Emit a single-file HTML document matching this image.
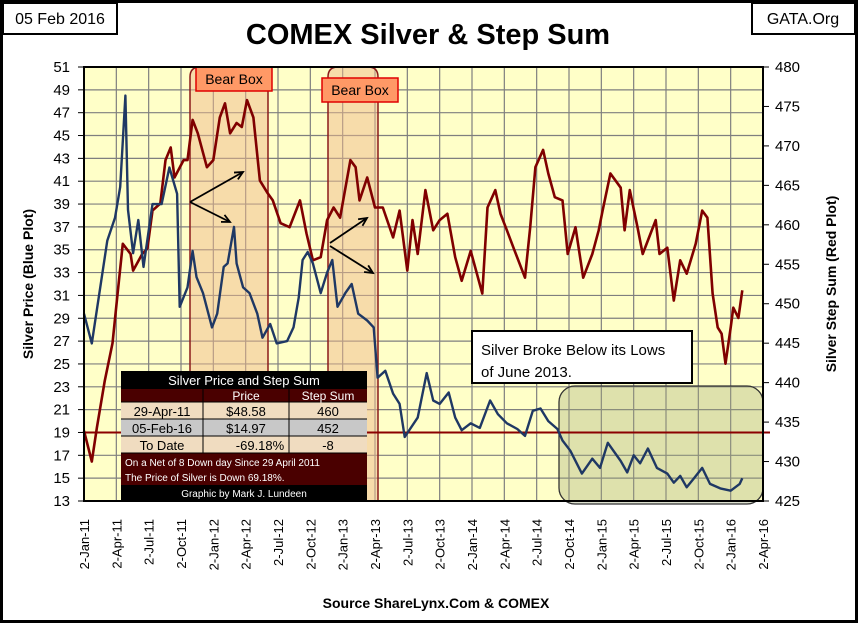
<!DOCTYPE html>
<html><head><meta charset="utf-8"><style>
body{margin:0;background:#fff}
svg{display:block}
text{font-family:"Liberation Sans",sans-serif}
</style></head><body>
<svg id="c" width="858" height="623" viewBox="0 0 858 623">
<rect x="1.5" y="1.5" width="855" height="620" fill="#fff" stroke="#000" stroke-width="3"/>
<rect x="3" y="3" width="114" height="31" fill="#fff" stroke="#000" stroke-width="2"/>
<text x="60" y="24" font-size="16" text-anchor="middle">05 Feb 2016</text>
<rect x="752" y="3" width="103" height="31" fill="#fff" stroke="#000" stroke-width="2"/>
<text x="803" y="24" font-size="16" text-anchor="middle">GATA.Org</text>
<text x="428" y="44" font-size="29" font-weight="bold" text-anchor="middle">COMEX Silver &amp; Step Sum</text>
<rect x="84" y="67" width="679" height="434" fill="#ffffc8"/>
<g id="grid"></g>
<g id="boxes"></g>
<line id="refline" stroke="#8b0000" stroke-width="2"/>
<path id="red" fill="none" stroke="#800000" stroke-width="2.6" stroke-linejoin="round"/>
<path id="blue" fill="none" stroke="#1f3864" stroke-width="2.4" stroke-linejoin="round"/>
<g id="ann"></g>
<rect x="84" y="67" width="679" height="434" fill="none" stroke="#000" stroke-width="2"/>
<g id="axes"></g>
<text transform="translate(33,284) rotate(-90)" font-size="14" font-weight="bold" text-anchor="middle">Silver Price  (Blue Plot)</text>
<text transform="translate(836,284) rotate(-90)" font-size="14" font-weight="bold" text-anchor="middle">Silver Step Sum   (Red Plot)</text>
<text x="436" y="608" font-size="14" font-weight="bold" text-anchor="middle">Source ShareLynx.Com &amp; COMEX</text>
</svg>
<script>
const blueT=[2011.00,2011.06,2011.18,2011.24,2011.28,2011.32,2011.34,2011.38,2011.42,2011.46,2011.53,2011.60,2011.66,2011.72,2011.74,2011.80,2011.84,2011.87,2011.92,2011.99,2012.03,2012.08,2012.11,2012.16,2012.18,2012.23,2012.28,2012.34,2012.38,2012.44,2012.49,2012.57,2012.62,2012.66,2012.69,2012.73,2012.77,2012.83,2012.88,2012.92,2012.96,2013.02,2013.07,2013.12,2013.19,2013.24,2013.27,2013.33,2013.39,2013.44,2013.48,2013.58,2013.65,2013.70,2013.75,2013.82,2013.87,2013.92,2013.99,2014.06,2014.14,2014.20,2014.27,2014.35,2014.41,2014.47,2014.53,2014.59,2014.66,2014.70,2014.76,2014.85,2014.93,2014.99,2015.05,2015.15,2015.20,2015.25,2015.30,2015.36,2015.43,2015.51,2015.56,2015.61,2015.66,2015.71,2015.78,2015.84,2015.92,2016.00,2016.07,2016.09];
const blueV=[29.4,26.8,35.8,37.8,40.5,48.5,38.5,34.7,37.6,33.5,39,39,42.2,39.9,30,31.7,34.9,32.6,31.2,28.2,29.4,33.5,33.8,37,33.8,31.7,31.2,29.4,27.3,28.5,26.8,27,28.2,30.8,34.1,34.8,33.8,31.2,33,34.1,30,31.2,32,29.4,28.8,28.2,23.8,24.4,22.4,21.5,18.6,20.3,24.2,21.8,21.5,22.5,20.3,19.2,19.8,19.4,21.8,20.6,19.8,19.3,18.7,20.9,21.1,20,19.3,18.3,17.4,15.4,16.7,15.9,18.1,16.5,15.5,17,16.3,17.6,15.9,15.4,14.6,15.2,14.2,14.9,15.9,14.5,14.1,13.9,14.5,15];
const redT=[2011.00,2011.06,2011.10,2011.16,2011.22,2011.26,2011.30,2011.36,2011.38,2011.45,2011.49,2011.53,2011.59,2011.63,2011.67,2011.70,2011.77,2011.80,2011.84,2011.88,2011.95,2012.00,2012.05,2012.09,2012.13,2012.18,2012.22,2012.26,2012.31,2012.36,2012.42,2012.46,2012.52,2012.59,2012.67,2012.72,2012.77,2012.83,2012.88,2012.93,2012.98,2013.06,2013.10,2013.13,2013.19,2013.25,2013.31,2013.39,2013.44,2013.50,2013.54,2013.58,2013.64,2013.70,2013.75,2013.81,2013.87,2013.92,2013.99,2014.08,2014.12,2014.18,2014.22,2014.27,2014.33,2014.41,2014.45,2014.49,2014.55,2014.59,2014.64,2014.70,2014.74,2014.80,2014.86,2014.93,2014.98,2015.01,2015.07,2015.15,2015.18,2015.22,2015.28,2015.32,2015.42,2015.45,2015.51,2015.56,2015.61,2015.66,2015.73,2015.78,2015.82,2015.86,2015.90,2015.93,2015.96,2016.00,2016.02,2016.06,2016.09];
const redV=[433.9,430,434.3,440.2,445,451.3,457.6,456.3,454.2,456.3,457,461.8,462.7,468.2,469.8,466,468.2,468.2,473.3,471.6,467.3,468.2,473.6,475.4,471.6,472.9,472.4,475.8,473.6,465.6,464,463.1,460.2,459.7,463.1,458.9,455.5,455.9,460.6,462.2,460.9,468.2,467.3,463.1,466,462.2,462.2,458.4,461.8,454.2,460.6,456.3,464.4,459.3,460.6,461.4,455.9,452.9,456.7,451.3,462.2,464.4,461.4,459.3,456.7,453.3,459.7,467.3,469.5,466.5,463.5,463.1,456.3,459.7,453.3,456.3,459.3,461.8,466.5,464.7,459.3,464.4,459.7,456.3,460.6,456.3,457.1,450.4,455.5,453.8,457.6,461.8,460.9,451.3,447,446.2,442.4,447,449.5,448.2,451.7];
const leftTicks=[13,15,17,19,21,23,25,27,29,31,33,35,37,39,41,43,45,47,49,51];
const rightTicks=[425,430,435,440,445,450,455,460,465,470,475,480];
const xLabels=["2-Jan-11","2-Apr-11","2-Jul-11","2-Oct-11","2-Jan-12","2-Apr-12","2-Jul-12","2-Oct-12","2-Jan-13","2-Apr-13","2-Jul-13","2-Oct-13","2-Jan-14","2-Apr-14","2-Jul-14","2-Oct-14","2-Jan-15","2-Apr-15","2-Jul-15","2-Oct-15","2-Jan-16","2-Apr-16"];
const refLevel=19;

const L=84,R=763,T=67,B=501;
const xs=t=>L+(t-2011)/5.25*(R-L);
const yl=v=>B-(v-13)/38*(B-T);
const yr=v=>B-(v-425)/55*(B-T);
const NS="http://www.w3.org/2000/svg";
function mk(tag,a,parent){const e=document.createElementNS(NS,tag);for(const k in a)e.setAttribute(k,a[k]);parent.appendChild(e);return e;}
const grid=document.getElementById('grid'),axes=document.getElementById('axes'),boxes=document.getElementById('boxes'),ann=document.getElementById('ann');
leftTicks.forEach(v=>{const y=yl(v);
 const g=mk('line',{x1:L,x2:R,y1:y,y2:y,stroke:'#7f7f7f','stroke-width':1.2},grid);
 
 
 const t=mk('text',{x:L-14,y:y+5,'font-size':15,'text-anchor':'end'},axes);t.textContent=v;
 
 
 mk('line',{x1:L-6,x2:L,y1:y,y2:y,stroke:'#000'},axes);});
rightTicks.forEach(v=>{const y=yr(v);
 const t=mk('text',{x:R+12,y:y+5,'font-size':15},axes);t.textContent=v;
 
 
 mk('line',{x1:R,x2:R+6,y1:y,y2:y,stroke:'#000'},axes);});
xLabels.forEach((s,i)=>{const x=L+i*(R-L)/21;
 const g=mk('line',{x1:x,x2:x,y1:T,y2:B,stroke:'#7f7f7f','stroke-width':1.2},grid);
 
 
 const t=mk('text',{transform:`translate(${x+5},${B+18}) rotate(-90)`,'font-size':13,'text-anchor':'end'},axes);t.textContent=s;
 
 });
[[190,268],[328,378]].forEach(b=>{const e=mk('path',{d:`M${b[0]},${B} V${T+10} Q${b[0]},${T} ${b[0]+10},${T} H${b[1]-10} Q${b[1]},${T} ${b[1]},${T+10} V${B}`,fill:'rgba(240,185,140,0.5)',stroke:'#8b1a1a','stroke-width':1.5},boxes);
 
 });
const gb=mk('rect',{x:559,y:386,width:204,height:118,rx:16,fill:'rgba(160,170,120,0.35)',stroke:'#333','stroke-width':1.3},boxes);


const rl=document.getElementById('refline');
rl.setAttribute('x1',L);rl.setAttribute('x2',770);rl.setAttribute('y1',yl(refLevel));rl.setAttribute('y2',yl(refLevel));
function path(T_,V_,f){return T_.map((t,i)=>(i?'L':'M')+xs(t).toFixed(1)+','+f(V_[i]).toFixed(1)).join(' ');}
document.getElementById('red').setAttribute('d',path(redT,redV,yr));
document.getElementById('blue').setAttribute('d',path(blueT,blueV,yl));
function label(x,y,w,h,txt){const r=mk('rect',{x,y,width:w,height:h,fill:'#ff9966',stroke:'#e00000','stroke-width':1.5},ann);
 
 
 const t=mk('text',{x:x+w/2,y:y+h/2+5,'font-size':14,'text-anchor':'middle'},ann);t.textContent=txt;}
label(196,67,76,24,'Bear Box');label(322,78,76,24,'Bear Box');
function arrow(x1,y1,x2,y2){mk('line',{x1,y1,x2,y2,stroke:'#000','stroke-width':1.8},ann);
 const a=Math.atan2(y2-y1,x2-x1),s=9;
 mk('path',{d:`M${x2-s*Math.cos(a-0.45)},${y2-s*Math.sin(a-0.45)} L${x2},${y2} L${x2-s*Math.cos(a+0.45)},${y2-s*Math.sin(a+0.45)}`,fill:'none',stroke:'#000','stroke-width':1.8},ann);}
arrow(190,202,243,172);arrow(190,202,230,222);arrow(330,243,367,218);arrow(330,246,373,273);
const nb=mk('rect',{x:472,y:331,width:220,height:52,fill:'#fff',stroke:'#000','stroke-width':2},ann);


[['Silver Broke Below its Lows',355],['of June 2013.',377]].forEach(p=>{const t=mk('text',{x:481,y:p[1],'font-size':15},ann);t.textContent=p[0];});
const tb=mk('g',{},ann);


mk('rect',{x:121,y:371,width:246,height:130,fill:'#000'},tb);
mk('rect',{x:121,y:389,width:246,height:13,fill:'#4a0000'},tb);
mk('rect',{x:121,y:402,width:246,height:17,fill:'#f0dcc0'},tb);
mk('rect',{x:121,y:419,width:246,height:17,fill:'#c8c8c8'},tb);
mk('rect',{x:121,y:436,width:246,height:17,fill:'#f0dcc0'},tb);
mk('rect',{x:121,y:453,width:246,height:32,fill:'#4a0000'},tb);
[[203,389,203,453],[289,389,289,453],[121,402,367,402],[121,419,367,419],[121,436,367,436],[121,453,367,453]].forEach(l=>mk('line',{x1:l[0],y1:l[1],x2:l[2],y2:l[3],stroke:'#000','stroke-width':1},tb));
function tt(x,y,s,c,sz,anc){const t=mk('text',{x,y,'font-size':sz||13,fill:c,'text-anchor':anc||'middle'},tb);t.textContent=s;}
tt(244,385,'Silver Price and Step Sum','#fff',13);
tt(246,400,'Price','#fff',12);tt(328,400,'Step Sum','#fff',12);
tt(162,416,'29-Apr-11','#000');tt(246,416,'$48.58','#000');tt(328,416,'460','#000');
tt(162,433,'05-Feb-16','#000');tt(246,433,'$14.97','#000');tt(328,433,'452','#000');
tt(162,450,'To Date','#000');tt(260,450,'-69.18%','#000');tt(328,450,'-8','#000');
tt(125,466,'On a Net of 8 Down day Since 29 April 2011','#fff',10,'start');
tt(125,481,'The Price of Silver is Down 69.18%.','#fff',10,'start');
tt(244,497,'Graphic by Mark J. Lundeen','#fff',10);
</script>
</body></html>
